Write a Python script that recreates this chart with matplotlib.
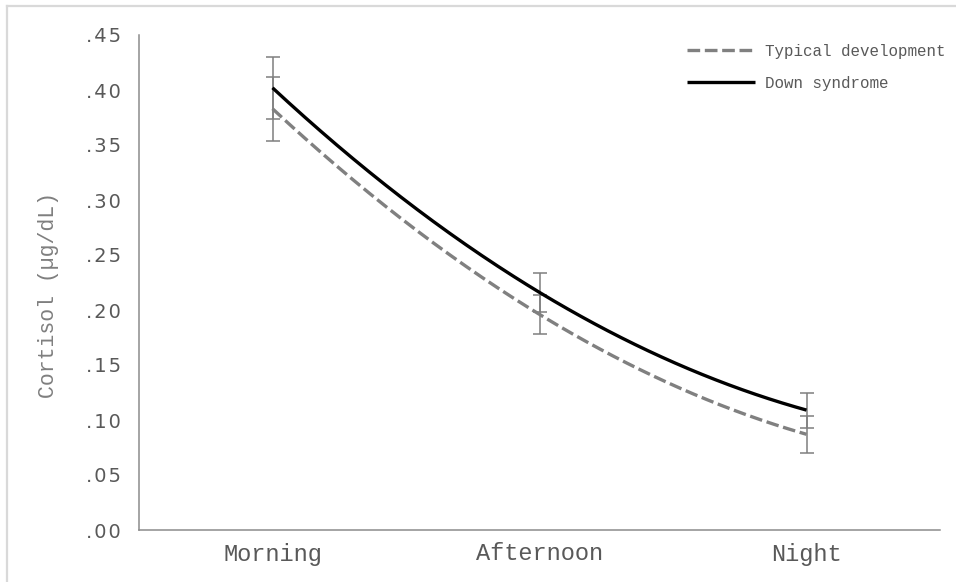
import numpy as np
import matplotlib
matplotlib.use("Agg")
import matplotlib.pyplot as plt
from matplotlib.lines import Line2D

# ---- data ----
times = ["Morning", "Afternoon", "Night"]
td_mean = [0.383, 0.196, 0.087]
td_err = [0.029, 0.018, 0.017]
ds_mean = [0.402, 0.216, 0.109]
ds_err = [0.028, 0.018, 0.016]
yticks = [0.00, 0.05, 0.10, 0.15, 0.20, 0.25, 0.30, 0.35, 0.40, 0.45]
ytick_labels = [".00", ".05", ".10", ".15", ".20", ".25", ".30", ".35", ".40", ".45"]
series_names = ["Typical development", "Down syndrome"]

W, H = 956, 582
fig = plt.figure(figsize=(W / 100, H / 100), dpi=100)
fig.patch.set_facecolor("white")

left, right, top, bottom = 139, 940, 35, 530
ax = fig.add_axes([left / W, 1 - bottom / H, (right - left) / W, (bottom - top) / H])
x = np.arange(len(times))
ax.set_xlim(-0.5, len(times) - 0.5)
ax.set_ylim(0, 0.45)

MONO = ["Liberation Mono", "DejaVu Sans Mono"]
TXT = "#595959"
HS = "\u200a"

ax.set_yticks(yticks)
ax.set_yticklabels([HS.join(list(s)) for s in ytick_labels],
                   fontfamily=["DejaVu Sans"], fontsize=14, color=TXT)
ax.set_xticks(x)
ax.set_xticklabels(times, fontfamily=MONO, fontsize=17, color=TXT)
ax.tick_params(axis="y", length=0, pad=13)
ax.tick_params(axis="x", length=0, pad=9)
for s in ["top", "right"]:
    ax.spines[s].set_visible(False)
for s in ["left", "bottom"]:
    ax.spines[s].set_color("#8c8c8c")
    ax.spines[s].set_linewidth(1.1)

ax.set_ylabel("Cortisol (\u00b5g/dL)", fontfamily=MONO, fontsize=15.5, color="#7f7f7f")
ax.yaxis.set_label_coords(-0.1, 0.475)


def smooth(xs, ys, n=200):
    # smooth curve passing through the plotted points
    c = np.polyfit(xs, ys, len(xs) - 1)
    xx = np.linspace(xs[0], xs[-1], n)
    return xx, np.polyval(c, xx)


ERR_C = "#7f7f7f"
for m, e in [(td_mean, td_err), (ds_mean, ds_err)]:
    ax.errorbar(x, m, yerr=e, fmt="none", ecolor=ERR_C, elinewidth=1.1,
                capsize=5, capthick=1.1, zorder=2)

DASH = [3.8, 1.4]
sx, sy = smooth(x, td_mean)
l1, = ax.plot(sx, sy, color="#808080", lw=2.4, zorder=3)
l1.set_dashes(DASH)
l1.set_dash_capstyle("butt")
sx, sy = smooth(x, ds_mean)
ax.plot(sx, sy, color="black", lw=2.4, zorder=4, solid_capstyle="butt")

h1 = Line2D([], [], color="#808080", lw=2.4, dashes=DASH, dash_capstyle="butt")
h2 = Line2D([], [], color="black", lw=2.4, solid_capstyle="butt")
leg = fig.legend([h1, h2], series_names, loc="upper left",
                 bbox_to_anchor=(687 / W, 1 - 44 / H),
                 frameon=False, prop={"family": MONO, "size": 11.4},
                 handlelength=4.3, handletextpad=0.6, labelspacing=1.07,
                 borderpad=0, borderaxespad=0)
for t in leg.get_texts():
    t.set_color(TXT)

# light border of the chart area (top and left visible)
BC = "#d9d9d9"
fig.add_artist(Line2D([7 / W, 1], [1 - 6 / H, 1 - 6 / H], transform=fig.transFigure, color=BC, lw=1.6))
fig.add_artist(Line2D([7 / W, 7 / W], [0, 1 - 6 / H], transform=fig.transFigure, color=BC, lw=1.6))

fig.savefig("out.png", dpi=100)
